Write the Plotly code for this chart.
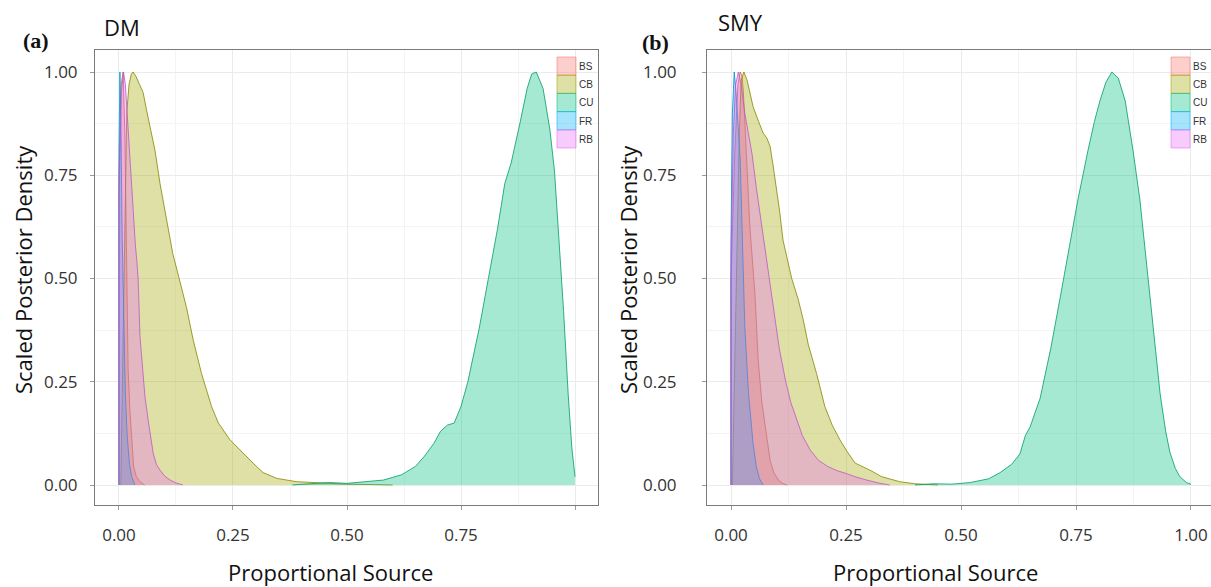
import plotly.graph_objects as go

# ---------------- data ----------------
sources = ["BS", "CB", "CU", "FR", "RB"]
colors = {"BS": (248, 118, 109), "CB": (163, 165, 0), "CU": (0, 191, 125),
          "FR": (0, 176, 246), "RB": (231, 107, 243)}

tick_vals = [0, 0.25, 0.5, 0.75, 1.0]
tick_text = ["0.00", "0.25", "0.50", "0.75", "1.00"]
tick_text_a_x = ["0.00", "0.25", "0.50", "0.75", ""]

# Panel (a) DM
a_BS_x = [0, 0, 0.005, 0.009, 0.013, 0.017, 0.020, 0.024, 0.028, 0.032, 0.038, 0.046, 0.056]
a_BS_y = [0, 0.75, 0.97, 1.0, 0.85, 0.52, 0.28, 0.18, 0.117, 0.045, 0.02, 0.008, 0]
a_CB_x = [0.004, 0.008, 0.012, 0.017, 0.022, 0.027, 0.031, 0.037, 0.045, 0.053, 0.060, 0.068,
          0.079, 0.090, 0.105, 0.118, 0.132, 0.148, 0.163, 0.181, 0.203, 0.218, 0.243, 0.265,
          0.294, 0.316, 0.346, 0.39, 0.45, 0.50, 0.56, 0.60]
a_CB_y = [0, 0.25, 0.6, 0.9, 0.97, 0.995, 1.0, 0.99, 0.97, 0.95, 0.91, 0.87, 0.81, 0.73, 0.64,
          0.56, 0.50, 0.43, 0.35, 0.27, 0.19, 0.15, 0.11, 0.085, 0.053, 0.03, 0.016, 0.008,
          0.004, 0.002, 0.001, 0]
a_CU_x = [0.38, 0.42, 0.46, 0.50, 0.54, 0.58, 0.62, 0.65, 0.67, 0.69, 0.705, 0.72, 0.735, 0.75,
          0.765, 0.79, 0.81, 0.83, 0.846, 0.86, 0.88, 0.895, 0.905, 0.915, 0.93, 0.945, 0.955,
          0.965, 0.975, 0.985, 0.993, 1.0]
a_CU_y = [0, 0.003, 0.006, 0.004, 0.008, 0.012, 0.025, 0.045, 0.07, 0.10, 0.13, 0.145, 0.15,
          0.19, 0.25, 0.38, 0.50, 0.62, 0.73, 0.78, 0.88, 0.96, 0.995, 1.0, 0.96, 0.86, 0.76,
          0.60, 0.42, 0.22, 0.09, 0.02]
a_FR_x = [0, 0, 0.002, 0.004, 0.007, 0.010, 0.014, 0.018, 0.023, 0.028, 0.035]
a_FR_y = [0, 0.8, 1.0, 0.9, 0.6, 0.4, 0.22, 0.12, 0.05, 0.02, 0]
a_RB_x = [0, 0, 0.005, 0.010, 0.014, 0.019, 0.024, 0.030, 0.036, 0.039, 0.042, 0.046, 0.052,
          0.057, 0.064, 0.070, 0.075, 0.082, 0.090, 0.10, 0.112, 0.125, 0.14]
a_RB_y = [0, 0.7, 0.95, 1.0, 0.97, 0.88, 0.78, 0.68, 0.58, 0.545, 0.50, 0.36, 0.27, 0.214,
          0.157, 0.11, 0.077, 0.05, 0.036, 0.022, 0.012, 0.005, 0]

# Panel (b) SMY
b_BS_x = [0, 0, 0.008, 0.015, 0.020, 0.024, 0.027, 0.034, 0.041, 0.052, 0.059, 0.067, 0.074,
          0.080, 0.085, 0.093, 0.103, 0.112, 0.122]
b_BS_y = [0, 0.5, 0.8, 0.97, 1.0, 0.99, 0.95, 0.79, 0.625, 0.464, 0.303, 0.20, 0.141, 0.09,
          0.06, 0.03, 0.012, 0.004, 0]
b_CB_x = [0.003, 0.008, 0.013, 0.018, 0.022, 0.028, 0.035, 0.048, 0.060, 0.070, 0.078, 0.085,
          0.092, 0.099, 0.106, 0.113, 0.122, 0.132, 0.146, 0.157, 0.168, 0.186, 0.204, 0.22,
          0.237, 0.253, 0.27, 0.285, 0.302, 0.328, 0.367, 0.40, 0.45]
b_CB_y = [0, 0.3, 0.6, 0.85, 0.98, 1.0, 0.98, 0.916, 0.88, 0.852, 0.84, 0.82, 0.77, 0.72, 0.66,
          0.593, 0.55, 0.50, 0.45, 0.40, 0.34, 0.27, 0.19, 0.145, 0.109, 0.08, 0.053, 0.045,
          0.036, 0.02, 0.008, 0.003, 0]
b_CU_x = [0.40, 0.44, 0.48, 0.52, 0.56, 0.585, 0.61, 0.628, 0.64, 0.65, 0.672, 0.695, 0.715,
          0.735, 0.754, 0.776, 0.79, 0.802, 0.815, 0.828, 0.842, 0.857, 0.874, 0.889, 0.90,
          0.911, 0.922, 0.933, 0.945, 0.954, 0.966, 0.976, 0.99, 1.0]
b_CU_y = [0, 0.003, 0.002, 0.006, 0.015, 0.03, 0.05, 0.075, 0.12, 0.14, 0.21, 0.33, 0.45, 0.57,
          0.69, 0.81, 0.88, 0.93, 0.975, 1.0, 0.985, 0.93, 0.81, 0.69, 0.57, 0.45, 0.33, 0.22,
          0.13, 0.08, 0.04, 0.02, 0.006, 0.002]
b_FR_x = [0, 0, 0.003, 0.007, 0.011, 0.016, 0.020, 0.024, 0.030, 0.038, 0.048, 0.055, 0.062, 0.07]
b_FR_y = [0, 0.6, 0.9, 1.0, 0.95, 0.87, 0.787, 0.625, 0.383, 0.222, 0.10, 0.045, 0.015, 0]
b_RB_x = [0, 0, 0.005, 0.010, 0.016, 0.022, 0.030, 0.038, 0.046, 0.055, 0.065, 0.075, 0.085,
          0.095, 0.105, 0.119, 0.13, 0.141, 0.155, 0.172, 0.19, 0.21, 0.23, 0.25, 0.27, 0.295,
          0.32, 0.345]
b_RB_y = [0, 0.55, 0.85, 0.97, 1.0, 0.97, 0.9, 0.85, 0.80, 0.72, 0.64, 0.56, 0.49, 0.41, 0.33,
          0.25, 0.20, 0.165, 0.12, 0.085, 0.06, 0.045, 0.035, 0.028, 0.02, 0.012, 0.005, 0]

panels = {
    "a": {"BS": (a_BS_x, a_BS_y), "CB": (a_CB_x, a_CB_y), "CU": (a_CU_x, a_CU_y),
          "FR": (a_FR_x, a_FR_y), "RB": (a_RB_x, a_RB_y)},
    "b": {"BS": (b_BS_x, b_BS_y), "CB": (b_CB_x, b_CB_y), "CU": (b_CU_x, b_CU_y),
          "FR": (b_FR_x, b_FR_y), "RB": (b_RB_x, b_RB_y)},
}

FILL_ALPHA = 0.35

# body margin is removed by a post-script, so the figure fills the window exactly
W, H = 1211, 587


def px(x):  # screen pixel x -> paper fraction
    return x / W


def py(y):  # screen pixel y -> paper fraction
    return 1 - y / H


def rgba(c, a):
    return "rgba(%d,%d,%d,%.2f)" % (c[0], c[1], c[2], a)


def darker(c, f=0.82):
    return (int(c[0] * f), int(c[1] * f), int(c[2] * f))


fig = go.Figure()
for pkey, ax in (("a", ("x", "y")), ("b", ("x2", "y2"))):
    for s in sources:
        xs, ys = panels[pkey][s]
        fig.add_trace(go.Scatter(
            x=xs, y=ys, xaxis=ax[0], yaxis=ax[1], mode="lines", fill="tozeroy",
            fillcolor=rgba(colors[s], FILL_ALPHA),
            line=dict(color=rgba(darker(colors[s]), 0.8), width=1),
            name=s, showlegend=False, hoverinfo="skip"))

font_main = "Open Sans, Liberation Sans, sans-serif"
grid_minor = dict(showgrid=True, gridcolor="#f4f4f4", gridwidth=1, dtick=0.125, tick0=0)


def axis_common(ttext, standoff):
    return dict(tickvals=tick_vals, ticktext=ttext,
                showgrid=True, gridcolor="#ebebeb", gridwidth=1, minor=grid_minor,
                showline=True, linecolor="#7a7a7a", linewidth=1, mirror=True,
                ticks="outside", ticklen=4, tickcolor="#9a9a9a",
                ticklabelstandoff=standoff, zeroline=False,
                tickfont=dict(family=font_main, size=17, color="#333333"))


y_dom = [py(505), py(50)]
y_rng = [-0.0484, 1.0533]

xa = axis_common(tick_text_a_x, 11)
xa.update(domain=[px(95), px(598)], range=[-0.0526, 1.0504], anchor="y")
xb = axis_common(tick_text, 11)
xb.update(domain=[px(707), 1.0], range=[-0.0522, 1.0435], anchor="y2")
ya = axis_common(tick_text, 9)
ya.update(domain=y_dom, range=y_rng, anchor="x")
yb = axis_common(tick_text, 22)
yb.update(domain=y_dom, range=y_rng, anchor="x2")

# legends drawn as key boxes + labels
shapes = []
annotations = []
for key_left in (557, 1171):
    for i, s in enumerate(sources):
        top = 57 + 18.2 * i
        shapes.append(dict(type="rect", xref="paper", yref="paper",
                           x0=px(key_left), x1=px(key_left + 19), y0=py(top + 18.2), y1=py(top),
                           fillcolor=rgba(colors[s], FILL_ALPHA),
                           line=dict(color=rgba(colors[s], 0.55), width=1)))
        annotations.append(dict(text=s, x=px(key_left + 20), y=py(top + 9.5), xref="paper",
                                yref="paper", xanchor="left", yanchor="middle", showarrow=False,
                                font=dict(family="Liberation Sans, Arial, sans-serif", size=10,
                                          color="#333333")))

title_font = dict(family=font_main, size=22, color="#111111")
tag_font = dict(family="Liberation Serif, Times New Roman, serif", size=22, color="#111111")

annotations += [
    dict(text="DM", x=px(102), y=py(27), xanchor="left", yanchor="middle", font=title_font),
    dict(text="SMY", x=px(716), y=py(22), xanchor="left", yanchor="middle", font=title_font),
    dict(text="<b>(a)</b>", x=px(21), y=py(41), xanchor="left", yanchor="middle", font=tag_font),
    dict(text="<b>(b)</b>", x=px(640), y=py(43), xanchor="left", yanchor="middle", font=tag_font),
    dict(text="Proportional Source", x=px(330), y=py(572), xanchor="center", yanchor="middle",
         font=title_font),
    dict(text="Proportional Source", x=px(935), y=py(572), xanchor="center", yanchor="middle",
         font=title_font),
    dict(text="Scaled Posterior Density", x=px(23), y=py(270), xanchor="center",
         yanchor="middle", textangle=-90, font=title_font),
    dict(text="Scaled Posterior Density", x=px(628), y=py(270), xanchor="center",
         yanchor="middle", textangle=-90, font=title_font),
]
for a in annotations:
    a.setdefault("xref", "paper")
    a.setdefault("yref", "paper")
    a["showarrow"] = False

fig.update_layout(
    width=W, height=H, margin=dict(l=0, r=0, t=0, b=0),
    paper_bgcolor="white", plot_bgcolor="white", showlegend=False,
    xaxis=xa, yaxis=ya, xaxis2=xb, yaxis2=yb,
    shapes=shapes, annotations=annotations,
)

fig.write_html(
    "out.html",
    config={"displayModeBar": False},
    post_script="document.body.style.margin='0';document.body.style.overflow='hidden';",
)
